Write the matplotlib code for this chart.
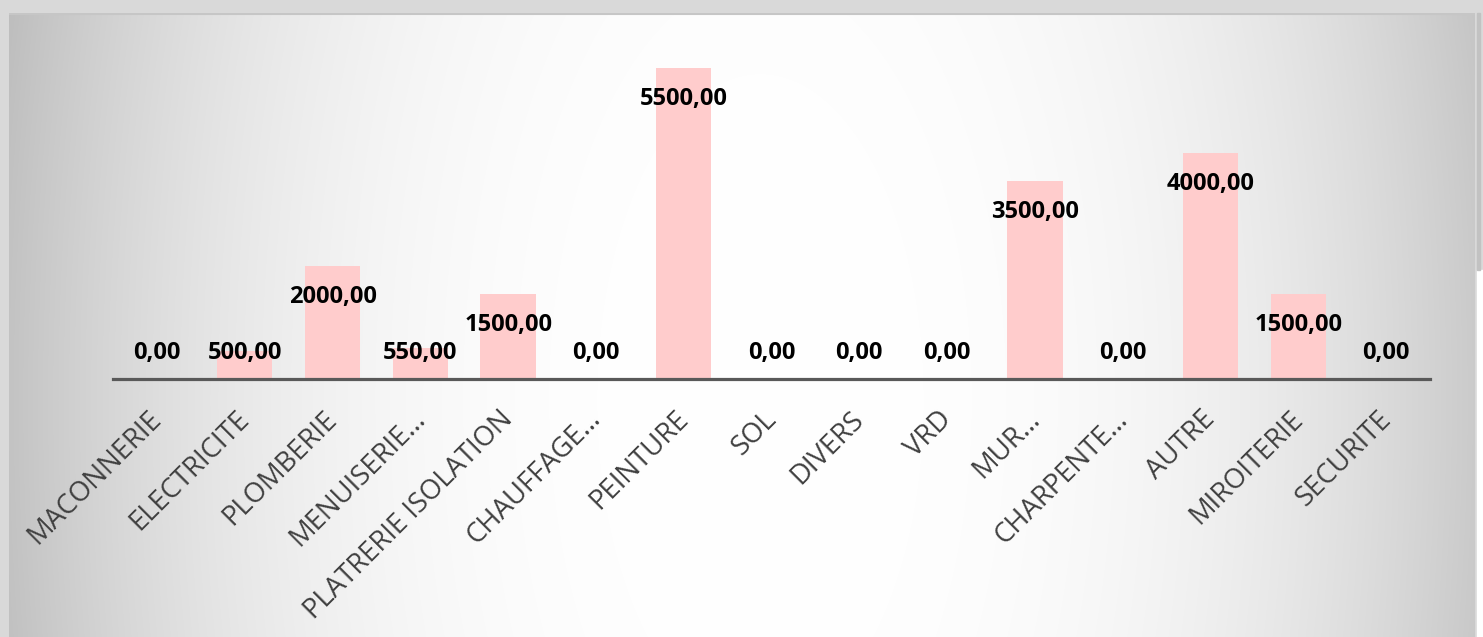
import numpy as np
import matplotlib
matplotlib.use("Agg")
import matplotlib.pyplot as plt
from matplotlib.patches import Rectangle
from matplotlib.transforms import ScaledTranslation

categories = ["MACONNERIE", "ELECTRICITE", "PLOMBERIE", "MENUISERIE…",
              "PLATRERIE ISOLATION", "CHAUFFAGE…", "PEINTURE", "SOL", "DIVERS",
              "VRD", "MUR…", "CHARPENTE…", "AUTRE", "MIROITERIE", "SECURITE"]
values = [0, 500, 2000, 550, 1500, 0, 5500, 0, 0, 0, 3500, 0, 4000, 1500, 0]

W, H = 1483, 637
fig = plt.figure(figsize=(W / 100, H / 100), dpi=100)
fig.patch.set_facecolor("#d9d9d9")

# little strip on the right edge (white below, grey line above)
fig.patches.append(Rectangle((1477 / W, 0), 6 / W, (H - 270) / H, transform=fig.transFigure,
                             color="white", zorder=0))
fig.patches.append(Rectangle((1477 / W, (H - 270) / H), 3 / W, (270 - 13) / H,
                             transform=fig.transFigure, color="#c2c2c2", zorder=0))

# panel with radial grey -> white gradient
px0, px1, py0, py1 = 9, 1475, 13, 637
bg = fig.add_axes([px0 / W, 0, (px1 - px0) / W, (py1 - py0) / H])
xx, yy = np.meshgrid(np.arange(px0, px1), np.arange(py0, py1))
d = np.hypot(xx - 760, (yy - 400) * 0.5)
g = np.clip(255 - 50 * (d / 702) ** 2.68, 185, 255) / 255.0
bg.imshow(np.dstack([g, g, g]), aspect="auto", extent=[0, 1, 0, 1], origin="upper")
bg.plot([0, 1], [0.998, 0.998], color="#c6c6c6", lw=1.5, transform=bg.transAxes)
bg.axis("off")

ax = fig.add_axes([113 / W, (H - 379) / H, (1430 - 113) / W, (379 - 40) / H])
ax.patch.set_alpha(0)
x = np.arange(len(categories))
ax.bar(x, values, width=0.63, color="#ffcccc", zorder=2)
ax.set_xlim(-0.5, len(categories) - 0.5)
ax.set_ylim(0, 6000)

for s in ["top", "right", "left"]:
    ax.spines[s].set_visible(False)
ax.spines["bottom"].set_color("#595959")
ax.spines["bottom"].set_linewidth(2.3)
ax.spines["bottom"].set_zorder(3)
ax.set_yticks([])
ax.tick_params(axis="x", length=0, pad=19)
ax.set_xticks(x)
ax.set_xticklabels(categories, rotation=45, ha="right", va="top",
                   rotation_mode="anchor", fontsize=19.8, color="#404040",
                   family="Open Sans")
shift = ScaledTranslation(-0.09, 0, fig.dpi_scale_trans)
for t in ax.get_xticklabels():
    t.set_transform(t.get_transform() + shift)

for i, v in enumerate(values):
    lab = f"{v:.2f}".replace(".", ",")
    ax.annotate(lab, xy=(i, max(v, 1000)), xytext=(0, -31 * 0.72),
                textcoords="offset points", ha="center", va="center",
                fontsize=17, fontweight="bold", family="Open Sans",
                color="black", zorder=4)

fig.savefig("out.png", dpi=100, facecolor=fig.get_facecolor())
